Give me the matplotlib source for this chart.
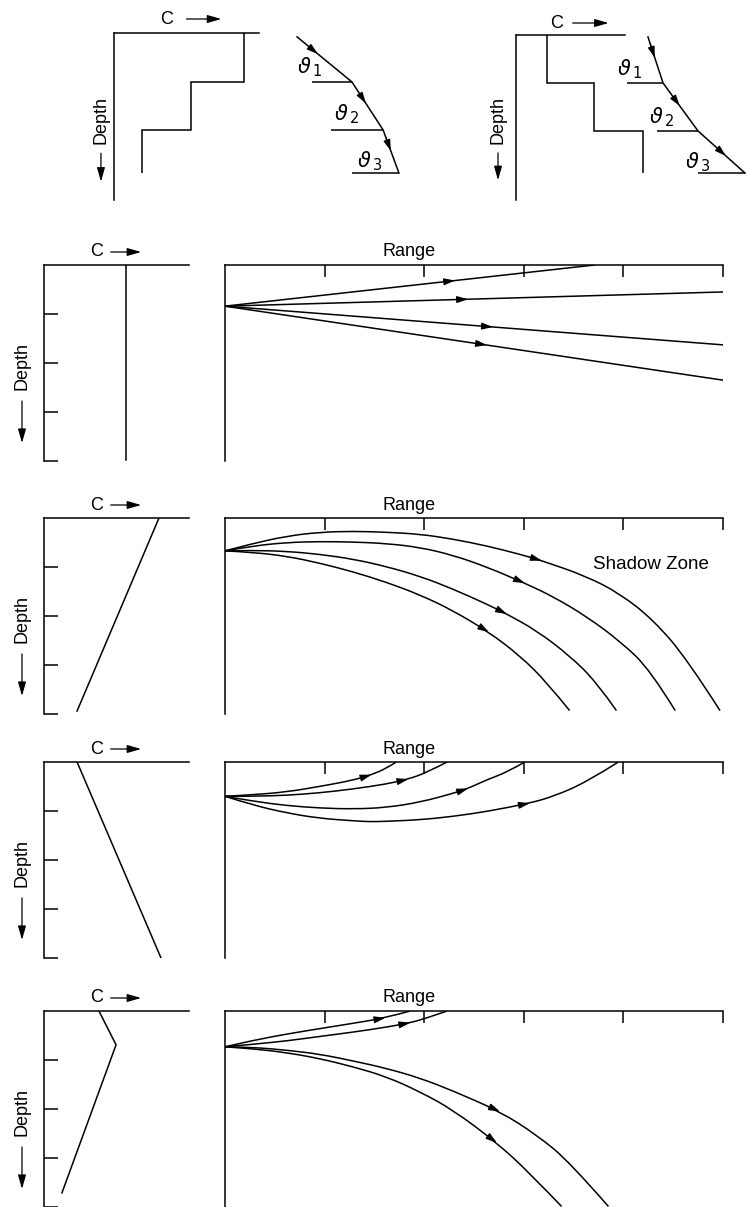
import numpy as np
import matplotlib
matplotlib.use("Agg")
import matplotlib.pyplot as plt
from matplotlib.path import Path
from matplotlib.patches import PathPatch

plt.rcParams['font.family'] = ['Liberation Sans', 'DejaVu Sans']

W, H = 746, 1207
LW = 1.1
FS = 13

# ---- top sketches: layered sound speed profiles and refracted ray ----
edges_a = [0, 1.02, 2.02, 2.92]
speed_a = [0.897, 0.531, 0.193]
ray_x_a = [0.146, 1.29, 1.94, 2.27]
ray_d_a = [0.08, 1.02, 2.02, 2.92]
ref_x_a = [0.46, 0.85, 1.29]
arrow_x_a = [0.58, 1.58, 2.10]

edges_b = [0, 0.98, 1.96, 2.82]
speed_b = [0.284, 0.716, 1.165]
ray_x_b = [0.571, 0.878, 1.592, 2.551]
ray_d_b = [0.04, 0.98, 1.96, 2.82]
ref_x_b = [0.143, 0.755, 1.592]
arrow_x_b = [0.71, 1.22, 2.16]

# ---- the four profile / ray-trace panels ----
panel_top = [265, 518, 762, 1011]

prof_c = [[0.566, 0.566],
          [0.793, 0.228],
          [0.228, 0.807],
          [0.379, 0.497, 0.124]]
prof_d = [[0, 3.98],
          [0, 3.94],
          [0, 4.0],
          [0, 0.69, 3.71]]

# panel 1: isovelocity, straight rays
p1_r = [[0, 3.71], [0, 5.0], [0, 5.0], [0, 5.0]]
p1_d = [[0.84, 0], [0.84, 0.55], [0.84, 1.63], [0.84, 2.35]]
p1_arrow = [2.31, 2.44, 2.69, 2.63]

# panel 2: negative gradient, rays bend down
p2_r = [[0, 0.28, 0.62, 0.95, 1.29, 1.62, 1.96, 2.29, 2.63, 2.96, 3.18, 3.63, 3.97, 4.30, 4.64, 4.97],
        [0, 0.28, 0.62, 0.95, 1.29, 1.62, 1.96, 2.29, 2.63, 3.01, 3.30, 3.63, 3.97, 4.27, 4.52],
        [0, 0.28, 0.62, 0.95, 1.29, 1.62, 1.96, 2.29, 2.63, 2.83, 3.13, 3.46, 3.73, 3.93],
        [0, 0.28, 0.62, 0.95, 1.29, 1.62, 1.96, 2.29, 2.65, 2.96, 3.23, 3.46]]
p2_d = [[0.67, 0.52, 0.37, 0.29, 0.27, 0.29, 0.33, 0.43, 0.57, 0.74, 0.87, 1.19, 1.55, 2.08, 2.88, 3.93],
        [0.67, 0.57, 0.50, 0.48, 0.49, 0.52, 0.60, 0.76, 1.00, 1.33, 1.61, 2.01, 2.52, 3.10, 3.93],
        [0.67, 0.66, 0.68, 0.74, 0.84, 0.99, 1.19, 1.45, 1.76, 1.96, 2.30, 2.81, 3.35, 3.93],
        [0.67, 0.70, 0.78, 0.92, 1.10, 1.31, 1.57, 1.89, 2.33, 2.81, 3.35, 3.93]]
p2_arrow = [3.18, 3.01, 2.83, 2.65]

# panel 3: positive gradient, rays bend up
p3_r = [[0, 0.28, 0.62, 0.95, 1.29, 1.47, 1.62, 1.72],
        [0, 0.28, 0.62, 0.95, 1.29, 1.62, 1.84, 2.03, 2.23],
        [0, 0.28, 0.62, 0.95, 1.29, 1.62, 1.96, 2.29, 2.44, 2.63, 2.83, 3.01],
        [0, 0.28, 0.62, 0.95, 1.29, 1.46, 1.62, 1.96, 2.29, 2.63, 3.06, 3.30, 3.63, 3.95]]
p3_d = [[0.70, 0.67, 0.61, 0.50, 0.37, 0.26, 0.13, 0.0],
        [0.70, 0.70, 0.68, 0.63, 0.55, 0.45, 0.35, 0.21, 0.0],
        [0.70, 0.80, 0.89, 0.94, 0.96, 0.93, 0.82, 0.64, 0.54, 0.36, 0.21, 0.0],
        [0.70, 0.88, 1.04, 1.15, 1.20, 1.22, 1.21, 1.18, 1.11, 1.01, 0.84, 0.70, 0.41, 0.0]]
p3_arrow = [1.47, 1.84, 2.44, 3.06]

# panel 4: surface duct
p4_r = [[0, 0.28, 0.62, 0.95, 1.29, 1.61, 1.86],
        [0, 0.28, 0.62, 0.95, 1.29, 1.62, 1.86, 2.03, 2.23],
        [0, 0.28, 0.62, 0.95, 1.29, 1.62, 1.96, 2.29, 2.76, 3.13, 3.46, 3.85],
        [0, 0.28, 0.62, 0.95, 1.29, 1.62, 1.96, 2.29, 2.73, 3.06, 3.38]]
p4_d = [[0.73, 0.60, 0.47, 0.36, 0.25, 0.14, 0.0],
        [0.73, 0.68, 0.61, 0.52, 0.43, 0.33, 0.24, 0.14, 0.0],
        [0.73, 0.74, 0.80, 0.88, 1.02, 1.17, 1.37, 1.63, 2.05, 2.53, 3.08, 3.99],
        [0.73, 0.77, 0.85, 0.97, 1.14, 1.34, 1.65, 2.02, 2.69, 3.31, 3.99]]
p4_arrow = [1.61, 1.86, 2.76, 2.73]

rays_r = [p1_r, p2_r, p3_r, p4_r]
rays_d = [p1_d, p2_d, p3_d, p4_d]
rays_arrow = [p1_arrow, p2_arrow, p3_arrow, p4_arrow]

fig = plt.figure(figsize=(W / 100, H / 100), dpi=100)


def px_axes(x0, y0, x1, y1):
    return fig.add_axes([x0 / W, 1 - y1 / H, (x1 - x0) / W, (y1 - y0) / H])


def frame(ax):
    for s in ['right', 'bottom']:
        ax.spines[s].set_visible(False)
    for s in ['left', 'top']:
        ax.spines[s].set_linewidth(LW)


def head(style='-|>,head_length=0.55,head_width=0.17'):
    return dict(arrowstyle=style, color='k', lw=0.9, shrinkA=0, shrinkB=0,
                mutation_scale=12)


def arrow_on(ax, xs, ys, xa, back=0.08):
    ya = np.interp(xa, xs, ys)
    yb = np.interp(xa - back, xs, ys)
    ax.annotate('', xy=(xa, ya), xytext=(xa - back, yb), arrowprops=head())


def smooth(ax, xs, ys):
    pts = np.column_stack([xs, ys])
    if len(pts) < 3:
        ax.plot(xs, ys, color='k', lw=LW)
        return
    verts = [pts[0]]
    codes = [Path.MOVETO]
    for i in range(1, len(pts) - 1):
        end = pts[i + 1] if i == len(pts) - 2 else (pts[i] + pts[i + 1]) / 2
        verts += [pts[i], end]
        codes += [Path.CURVE3, Path.CURVE3]
    ax.add_patch(PathPatch(Path(verts, codes), fill=False, lw=LW, color='k'))


def c_label(ax, xc, xa0, xa1, y):
    ax.text(xc, y, 'C', transform=ax.transAxes, ha='center', va='center', fontsize=FS)
    ax.annotate('', xy=(xa1, y), xytext=(xa0, y), xycoords='axes fraction',
                arrowprops=head('-|>,head_length=0.7,head_width=0.2'))


def depth_label(ax, x, yt, ya0, ya1):
    ax.text(x, yt, 'Depth', transform=ax.transAxes, rotation=90,
            ha='center', va='center', fontsize=FS)
    ax.annotate('', xy=(x, ya1), xytext=(x, ya0), xycoords='axes fraction',
                arrowprops=head('-|>,head_length=0.7,head_width=0.2'))


# ---- top left ----
axa = px_axes(114, 33, 259, 200)
axa.set_xlim(0, 1)
axa.set_ylim(3.48, 0)
frame(axa)
axa.set_xticks([])
axa.set_yticks([])
axa.stairs(speed_a, edges_a, orientation='horizontal', baseline=None, color='k', lw=LW)
c_label(axa, 0.36, 0.50, 0.74, 1 + 14 / 167)
depth_label(axa, -0.09, 0.48, 0.28, 0.11)

ska = px_axes(290, 33, 410, 200)
ska.set_xlim(0, 2.5)
ska.set_ylim(3.48, 0)
ska.axis('off')
ska.plot(ray_x_a, ray_d_a, color='k', lw=LW)
ska.hlines(edges_a[1:], ref_x_a, ray_x_a[1:], color='k', lw=LW)
for xa in arrow_x_a:
    arrow_on(ska, ray_x_a, ray_d_a, xa, back=0.1)
for i, (tx, ty) in enumerate([(0.40, 0.72), (1.17, 1.70), (1.65, 2.68)]):
    ska.text(tx, ty, r'$\vartheta_{\,%d}$' % (i + 1), ha='center', va='center', fontsize=15)

# ---- top right ----
axb = px_axes(516, 35, 625, 200)
axb.set_xlim(0, 1)
axb.set_ylim(3.37, 0)
frame(axb)
axb.set_xticks([])
axb.set_yticks([])
axb.stairs(speed_b, edges_b, orientation='horizontal', baseline=None, color='k', lw=LW,
           clip_on=False)
c_label(axb, 0.376, 0.52, 0.85, 1 + 12 / 165)
depth_label(axb, -0.165, 0.485, 0.285, 0.12)

skb = px_axes(620, 35, 746, 200)
skb.set_xlim(0, 2.571)
skb.set_ylim(3.37, 0)
skb.axis('off')
skb.plot(ray_x_b, ray_d_b, color='k', lw=LW, clip_on=False)
skb.hlines(edges_b[1:], ref_x_b, ray_x_b[1:], color='k', lw=LW, clip_on=False)
for xa in arrow_x_b:
    arrow_on(skb, ray_x_b, ray_d_b, xa, back=0.1)
for i, (tx, ty) in enumerate([(0.20, 0.70), (0.84, 1.68), (1.59, 2.60)]):
    skb.text(tx, ty, r'$\vartheta_{\,%d}$' % (i + 1), ha='center', va='center', fontsize=15)

# ---- four panels ----
for k in range(4):
    top = panel_top[k]

    axp = px_axes(44, top, 189, top + 196)
    axp.set_xlim(0, 1)
    axp.set_ylim(4, 0)
    frame(axp)
    axp.set_xticks([])
    axp.set_yticks([1, 2, 3, 4])
    axp.tick_params(axis='y', direction='in', length=10, width=LW, labelleft=False)
    axp.plot(prof_c[k], prof_d[k], color='k', lw=LW)
    c_label(axp, 0.36, 0.46, 0.67, 1 + 13 / 196)
    depth_label(axp, -22 / 145, 0.485, 0.306, 0.092)

    axr = px_axes(225, top, 723, top + 196)
    axr.set_xlim(0, 5)
    axr.set_ylim(4, 0)
    frame(axr)
    axr.set_yticks([])
    axr.set_xticks([1, 2, 3, 4, 5])
    axr.tick_params(axis='x', top=True, bottom=False, labeltop=False, labelbottom=False,
                    direction='in', length=8.6, width=LW)
    axr.text(0.37, 1 + 13 / 196, 'Range', transform=axr.transAxes, ha='center',
             va='center', fontsize=FS)
    for xs, ys, xa in zip(rays_r[k], rays_d[k], rays_arrow[k]):
        smooth(axr, xs, ys)
        arrow_on(axr, xs, ys, xa)
    if k == 1:
        axr.text(3.69, 0.94, 'Shadow Zone', ha='left', va='center', fontsize=13.5)

fig.savefig('out.png', dpi=100)
